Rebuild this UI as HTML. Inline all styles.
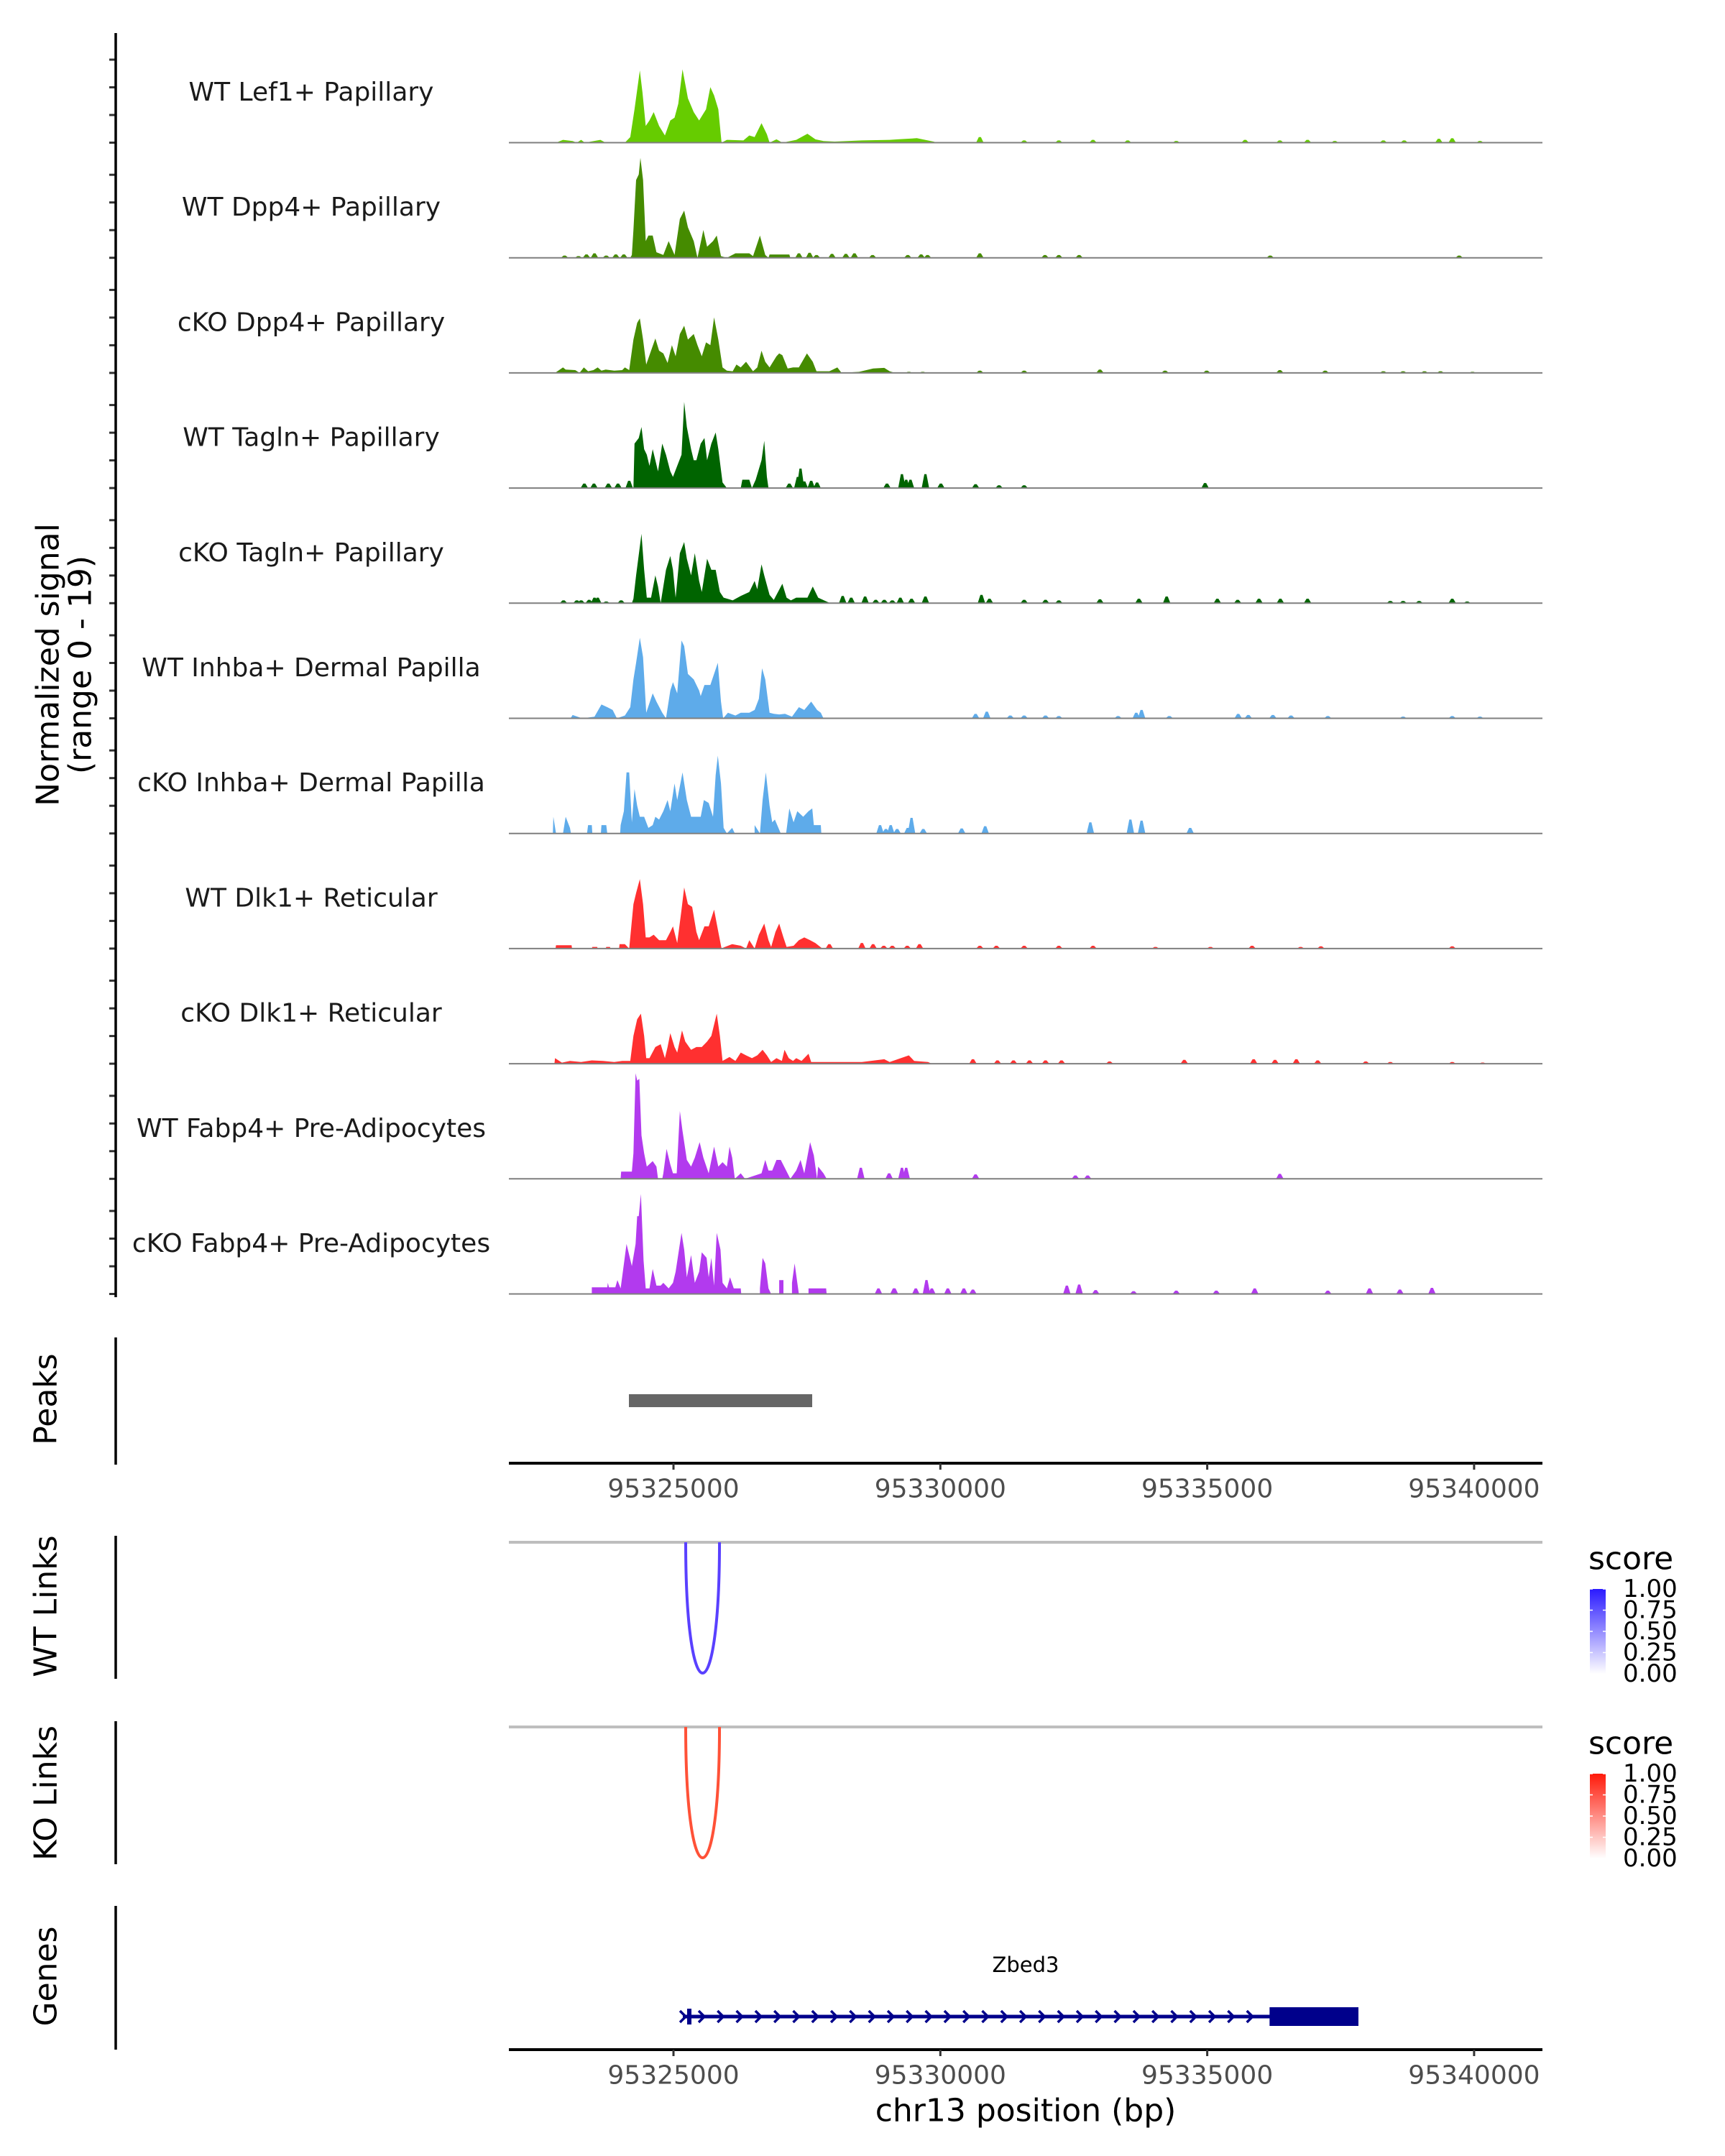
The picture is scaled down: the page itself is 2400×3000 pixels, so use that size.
<!DOCTYPE html>
<html><head><meta charset="utf-8"><style>
html,body{margin:0;padding:0;background:#fff;}
svg{display:block;font-family:"DejaVu Sans","Liberation Sans",sans-serif;}
</style></head><body>
<svg id="chart" width="2400" height="3000" viewBox="0 0 2400 3000" xmlns="http://www.w3.org/2000/svg">
<rect x="0" y="0" width="2400" height="3000" fill="#fff"/>
<g id="tracks"></g>
<g id="axes"></g>
</svg>
<script>
// ---------- data (positions in kb offset from 95,320,000 bp; values = normalized signal) ----------
const trackNames = ["WT Lef1+ Papillary","WT Dpp4+ Papillary","cKO Dpp4+ Papillary","WT Tagln+ Papillary","cKO Tagln+ Papillary","WT Inhba+ Dermal Papilla","cKO Inhba+ Dermal Papilla","WT Dlk1+ Reticular","cKO Dlk1+ Reticular","WT Fabp4+ Pre-Adipocytes","cKO Fabp4+ Pre-Adipocytes"];
const trackColors = ["#66cc00","#458b00","#458b00","#006400","#006400","#5eabea","#5eabea","#ff3030","#ff3030","#b23aee","#b23aee"];

const lef1WtPos = [2.80,2.93,3.11,3.19,3.27,3.34,3.63,3.73,4.09,4.19,4.27,4.37,4.42,4.48,4.55,4.63,4.73,4.84,4.94,5.02,5.09,5.17,5.27,5.38,5.48,5.61,5.69,5.76,5.84,5.90,6.00,6.31,6.42,6.52,6.65,6.75,6.80,6.93,7.04,7.30,7.51,7.66,7.81,8.02,8.53,9.05,9.20,9.56,9.87,9.95];
const lef1WtVal = [0,0.5,0.3,0,0.5,0,0.5,0,0,1,6,13,9,3,4,5.5,3,1.3,4,4.5,7,13.2,8,5.5,4,6,10,8.5,6,0,0.5,0.4,1.3,1,3.5,1.5,0,0.6,0,0.5,1.6,0.6,0.3,0.2,0.4,0.5,0.6,0.8,0.2,0];
const lef1WtBumpPos = [10.74,11.57,12.22,12.86,13.51,14.42,15.71,16.36,16.88,17.39,18.30,18.69,19.34,19.59,20.11];
const lef1WtBumpVal = [1,0.4,0.4,0.5,0.4,0.3,0.5,0.4,0.5,0.3,0.4,0.4,0.7,0.8,0.3];

const dpp4WtPos = [4.19,4.22,4.25,4.30,4.35,4.38,4.43,4.48,4.53,4.61,4.68,4.81,4.91,5.02,5.12,5.20,5.27,5.38,5.45,5.56,5.63,5.74,5.81,5.89,6.00,6.16,6.42,6.49,6.62,6.72,6.78,6.80,7.17,7.19];
const dpp4WtVal = [0,0.5,5,14,15,18,14,3,4,4,1,0.5,3,0.5,7,8.5,5.5,3,0,5,2,3,4,0.3,0,0.8,0.8,0.3,4,0.5,0,0.6,0.6,0];
const dpp4WtBumpPos = [2.96,3.22,3.37,3.52,3.74,3.92,4.07,7.35,7.55,7.68,7.97,8.23,8.39,8.73,9.39,9.64,9.76,10.74,11.96,12.22,12.60,16.18,19.72];
const dpp4WtBumpVal = [0.4,0.3,0.6,0.8,0.4,0.6,0.6,0.8,0.9,0.5,0.7,0.7,0.8,0.5,0.5,0.6,0.5,0.8,0.5,0.5,0.5,0.4,0.4];

const dpp4KoPos = [2.78,2.93,2.98,3.16,3.24,3.32,3.40,3.50,3.58,3.65,3.73,3.89,4.04,4.09,4.17,4.25,4.32,4.37,4.43,4.49,4.58,4.66,4.73,4.81,4.89,4.97,5.04,5.12,5.20,5.27,5.38,5.45,5.53,5.61,5.69,5.76,5.84,5.92,6.00,6.11,6.18,6.26,6.36,6.49,6.57,6.65,6.72,6.80,6.93,6.98,7.04,7.14,7.24,7.35,7.50,7.61,7.68,7.92,8.07,8.15,8.48,8.74,8.95,9.05,9.15];
const dpp4KoVal = [0,1,0.6,0.5,0,1,0.3,0.5,1,0.4,0.6,0.4,0.5,1,0.5,6,9,9.8,6,1.5,4,6.2,4,3.5,1.8,5,3,7,8.5,6,7,5,3,5.5,5,10,6,1,0.4,0.3,1.5,1,2,0.3,1,4,2,1,3,3.5,3.2,0.8,1,1,3.5,2,0.3,0.3,1,0,0.2,0.8,0.9,0.3,0];
const dpp4KoBumpPos = [9.41,9.67,10.74,11.57,12.99,14.21,14.99,16.36,17.21,18.30,18.67,19.07,19.37,19.97];
const dpp4KoBumpVal = [0.2,0.2,0.4,0.4,0.6,0.4,0.4,0.5,0.4,0.3,0.3,0.3,0.3,0.2];

const taglnWtPos = [4.25,4.27,4.35,4.40,4.45,4.50,4.55,4.61,4.66,4.71,4.79,4.86,4.94,4.99,5.07,5.15,5.20,5.25,5.33,5.38,5.43,5.51,5.58,5.63,5.71,5.79,5.84,5.92,6.00,6.26,6.29,6.42,6.47,6.54,6.65,6.70,6.75,6.78];
const taglnWtVal = [0,8,9,11,7,6,4,7,5,3,8,6,3,2,4,6,15.5,11,7,5,5,8,9,5,8,10,7,1,0,0,1.5,1.5,0,1.5,5,8.5,2,0];
const taglnWtBumpPos = [3.33,3.51,3.78,3.96,4.17,7.17,7.33,7.38,7.45,7.58,7.69,9.00,9.28,9.36,9.72,9.44,10.01,10.66,11.10,11.57,14.96];
const taglnWtBumpVal = [0.8,0.8,0.8,0.8,1.3,0.8,2,3.5,1.2,1.3,1,0.8,2.5,1.5,2.5,1.5,0.8,0.7,0.5,0.5,0.9];

const taglnKoPos = [4.22,4.25,4.30,4.40,4.45,4.50,4.58,4.66,4.71,4.76,4.86,4.94,4.99,5.04,5.12,5.20,5.25,5.33,5.40,5.48,5.53,5.63,5.71,5.79,5.87,5.94,6.11,6.26,6.42,6.52,6.57,6.65,6.70,6.80,6.88,7.04,7.12,7.20,7.30,7.40,7.51,7.61,7.71,7.89,7.94];
const taglnKoVal = [0,0.8,5,12.5,6,1,1,5,3,0,6,8.5,6,1,9,11,8,5,9,4,2,8,6,6,2,1,0.5,1.3,2,4,2.5,7,5,1.5,0.6,3.5,1,0.5,1,1,1,3,1,0.2,0];
const taglnKoBumpPos = [2.94,3.19,3.27,3.42,3.52,3.58,3.74,4.02,8.17,8.33,8.59,8.79,8.95,9.10,9.25,9.46,9.72,10.77,10.92,11.57,11.97,12.22,12.99,13.72,14.24,15.19,15.57,15.97,16.37,16.88,18.43,18.67,18.97,19.59,19.87];
const taglnKoBumpVal = [0.5,0.5,0.5,0.6,1,1,0.3,0.5,1.3,1,1.2,0.6,0.6,0.5,1,0.8,1.2,1.5,0.8,0.6,0.6,0.5,0.7,0.8,1.2,0.8,0.6,0.8,0.8,0.8,0.4,0.4,0.4,0.8,0.3];

const inhbaWtPos = [3.07,3.11,3.29,3.52,3.65,3.76,3.86,3.94,4.09,4.19,4.25,4.30,4.37,4.43,4.49,4.61,4.68,4.79,4.86,4.94,4.99,5.07,5.15,5.20,5.27,5.38,5.48,5.51,5.58,5.69,5.76,5.83,5.89,5.93,6.02,6.16,6.26,6.42,6.52,6.60,6.66,6.72,6.80,6.88,6.98,7.09,7.22,7.35,7.45,7.58,7.69,7.76,7.81];
const inhbaWtVal = [0,0.6,0,0.3,2.5,2,1.5,0,0.5,2,7,10,14.5,11,1,4.5,3,1,0,5,6.5,4.5,14,13,8,7,5,4,6,6,8,10,3,0,1,0.5,1,1,1.5,3.5,9,7,1,0.8,0.7,0.8,0.3,2,1.5,3,1.5,1,0];
const inhbaWtBumpPos = [10.66,10.87,11.31,11.57,11.97,12.22,13.33,13.67,13.77,14.29,15.58,15.77,16.23,16.57,17.26,18.67,19.59,20.11];
const inhbaWtBumpVal = [0.8,1.2,0.5,0.5,0.5,0.4,0.4,1,1.5,0.4,0.8,0.6,0.6,0.5,0.4,0.3,0.4,0.3];

const inhbaKoPos = [2.74,2.75,2.80,2.93,2.98,3.06,3.08,3.38,3.40,3.47,3.48,3.64,3.65,3.74,3.76,4.00,4.01,4.07,4.12,4.17,4.22,4.27,4.32,4.37,4.45,4.53,4.61,4.66,4.73,4.81,4.89,4.94,5.02,5.07,5.17,5.25,5.33,5.51,5.57,5.66,5.74,5.79,5.83,5.89,5.94,6.00,6.10,6.15,6.52,6.52,6.62,6.67,6.73,6.80,6.85,6.90,7.01,7.11,7.17,7.25,7.32,7.43,7.53,7.60,7.63,7.76,7.77];
const inhbaKoVal = [0,3,0,0,3,1,0,0,1.5,1.5,0,0,1.5,1.5,0,0,1.5,4,11,11,2,8,5,3,3,1,1.5,3,2.5,4,6,4,9,6,11,6,3,3,6,5.5,3,10.5,14,9,1,0,1,0,0,1.5,0,6,11,5,2,2.5,0,0,4.5,2,4,3,4,4.5,1.5,1.5,0];
const inhbaKoBumpPos = [8.87,9.07,9.39,9.46,8.98,9.19,9.68,10.40,10.84,12.81,13.56,13.77,14.68];
const inhbaKoBumpVal = [1.5,1.5,1,2.8,0.8,0.8,0.8,0.9,1.3,2,2.5,2.3,1];

const dlk1WtPos = [2.79,2.80,3.09,3.10,3.47,3.48,3.57,3.58,3.73,3.74,3.81,3.82,3.98,3.99,4.09,4.17,4.25,4.30,4.37,4.43,4.48,4.55,4.63,4.73,4.86,4.94,4.99,5.07,5.15,5.20,5.27,5.35,5.43,5.48,5.58,5.66,5.76,5.84,5.90,5.94,6.10,6.26,6.36,6.42,6.52,6.60,6.70,6.78,6.83,6.91,6.98,7.06,7.12,7.25,7.35,7.45,7.56,7.66,7.79];
const dlk1WtVal = [0,0.6,0.6,0,0,0.3,0.3,0,0,0.3,0.3,0,0,0.8,0.8,0,8,10,12.5,8,2,2,2.5,1.5,1.5,3,4,1,7,11,8,7.5,3,1.5,4,4,7,3,0,0.2,0.8,0.5,0,1.5,0,2.5,4.5,1.5,0.3,3,4.5,2,0.3,0.5,1.5,2,1.5,1,0];
const dlk1WtBumpPos = [7.92,8.53,8.74,8.94,9.10,9.38,9.61,10.74,11.05,11.57,12.22,12.86,14.03,15.06,15.84,16.75,17.13,19.59];
const dlk1WtBumpVal = [0.8,1,0.8,0.5,0.5,0.5,0.8,0.5,0.5,0.5,0.5,0.5,0.3,0.3,0.5,0.3,0.4,0.4];

const dlk1KoPos = [2.77,2.78,2.91,3.06,3.27,3.47,3.68,3.89,4.04,4.19,4.25,4.32,4.39,4.45,4.49,4.55,4.66,4.76,4.84,4.89,4.94,5.02,5.07,5.16,5.22,5.33,5.43,5.53,5.63,5.71,5.81,5.87,5.92,6.05,6.16,6.26,6.36,6.47,6.57,6.67,6.75,6.83,6.93,7.03,7.08,7.16,7.24,7.30,7.40,7.53,7.58,7.71,8.02,8.53,8.95,9.05,9.41,9.51,9.77,9.84];
const dlk1KoVal = [0,1,0.2,0.5,0.3,0.6,0.5,0.3,0.5,0.5,5,8,9,5,1,1,3,3.5,1,3,5.5,3,2,6,4,2.5,3,3,4,5,9,5,0.5,1.2,0.5,2,1.5,1,1.5,2.5,1.5,0.3,1,0.5,2.5,1,0.5,1,0.5,1.8,0.3,0.3,0.3,0.3,0.8,0.3,1.5,0.5,0.3,0];
const dlk1KoBumpPos = [10.61,11.07,11.37,11.67,11.97,12.27,13.17,14.57,15.87,16.27,16.67,17.07,17.97,18.43,19.59,20.16];
const dlk1KoBumpVal = [0.8,0.6,0.6,0.6,0.6,0.6,0.4,0.7,0.8,0.7,0.8,0.6,0.4,0.3,0.3,0.2];

const fabp4WtPos = [4.01,4.02,4.22,4.25,4.29,4.32,4.36,4.40,4.45,4.50,4.61,4.68,4.71,4.79,4.81,4.87,4.94,4.99,5.06,5.12,5.17,5.25,5.33,5.40,5.49,5.56,5.66,5.76,5.84,5.92,6.00,6.05,6.10,6.15,6.26,6.34,6.65,6.72,6.78,6.85,6.93,7.01,7.19,7.30,7.38,7.45,7.56,7.63,7.69,7.71,7.81,7.87];
const fabp4WtVal = [0,1.3,1.3,4.6,19,17.7,18,7.8,4.6,2.2,3.2,2.2,0,0,1,5.4,2.6,1,1,12.2,8.6,3.4,2.2,3.8,6.6,3.8,1,5.8,2.2,3,2.2,5.8,3.8,0,1,0,1,3.4,1.5,1.5,3.4,3.4,0,1.5,3.4,1,6.6,4.2,0,2.2,1,0];
const fabp4WtBumpPos = [8.51,9.04,9.28,9.36,10.66,12.53,12.76,16.36];
const fabp4WtBumpVal = [2,1,2,2,0.8,0.6,0.6,0.9];

const fabp4KoPos = [3.47,3.47,3.76,3.77,3.79,3.91,3.95,4.01,4.12,4.17,4.22,4.29,4.32,4.35,4.39,4.44,4.48,4.55,4.61,4.68,4.76,4.81,4.91,4.99,5.04,5.15,5.20,5.25,5.33,5.40,5.48,5.53,5.62,5.66,5.71,5.76,5.81,5.88,5.92,6.00,6.06,6.13,6.18,6.26,6.27,6.62,6.62,6.67,6.72,6.78,6.83,6.98,6.98,7.06,7.06,7.22,7.22,7.27,7.32,7.35,7.53,7.53,7.86,7.87];
const fabp4KoVal = [0,1.2,1.2,2,1.2,1.2,2.5,1,9,7,5,9,14,14,18,6,1,1,4.5,1.5,1.5,2,1,2,4,11,8,3,7,2,4,7.5,6.5,3,6.5,1.5,11,8,2,1,3,1,1,1,0,0,1,6.5,5.5,1,0,0,2.5,2.5,0,0,2,5.5,2,0,0,1,1,0];
const fabp4KoBumpPos = [8.84,9.13,9.74,9.14,9.54,9.84,10.14,10.44,10.61,12.37,12.60,12.91,13.62,14.42,15.17,15.89,17.26,18.04,18.61,19.21];
const fabp4KoBumpVal = [1,1,2.5,1,1,1,1,1,0.8,1.5,1.7,0.7,0.5,0.6,0.6,1,0.6,1,0.8,1.1];

const trackPos = [lef1WtPos,dpp4WtPos,dpp4KoPos,taglnWtPos,taglnKoPos,inhbaWtPos,inhbaKoPos,dlk1WtPos,dlk1KoPos,fabp4WtPos,fabp4KoPos];
const trackVal = [lef1WtVal,dpp4WtVal,dpp4KoVal,taglnWtVal,taglnKoVal,inhbaWtVal,inhbaKoVal,dlk1WtVal,dlk1KoVal,fabp4WtVal,fabp4KoVal];
const trackBumpPos = [lef1WtBumpPos,dpp4WtBumpPos,dpp4KoBumpPos,taglnWtBumpPos,taglnKoBumpPos,inhbaWtBumpPos,inhbaKoBumpPos,dlk1WtBumpPos,dlk1KoBumpPos,fabp4WtBumpPos,fabp4KoBumpPos];
const trackBumpVal = [lef1WtBumpVal,dpp4WtBumpVal,dpp4KoBumpVal,taglnWtBumpVal,taglnKoBumpVal,inhbaWtBumpVal,inhbaKoBumpVal,dlk1WtBumpVal,dlk1KoBumpVal,fabp4WtBumpVal,fabp4KoBumpVal];

const peakStarts = [95324165];
const peakEnds = [95327599];
const wtLinkStart = [95325229];
const wtLinkEnd = [95325862];
const wtLinkScore = [0.85];
const koLinkStart = [95325229];
const koLinkEnd = [95325862];
const koLinkScore = [0.85];
const geneName = ["Zbed3"];
const geneStart = [95325175];
const geneEnd = [95337833];
const geneCdsStart = [95336168];
const xTicks = [95325000,95330000,95335000,95340000];
const legendTicks = ["1.00","0.75","0.50","0.25","0.00"];

// ---------- scales ----------
const BASE_BP = 95320000;
function xs(bp){ return 708 + (bp - 95321916) * (371.3/5000); }
function xk(kb){ return xs(BASE_BP + kb*1000); }
const UNIT = 7.73;
function baseY(i){ return 198.5 + i*160.2; }

const NS="http://www.w3.org/2000/svg";
function mk(tag, attrs, parent){ const e=document.createElementNS(NS,tag); for(const k in attrs) e.setAttribute(k,attrs[k]); parent.appendChild(e); return e; }
const tg=document.getElementById('tracks');
const ax=document.getElementById('axes');

// ---------- coverage tracks ----------
for(let i=0;i<trackNames.length;i++){
  const b=baseY(i);
  const g=mk('g',{},tg);
  
  
  const P=trackPos[i], V=trackVal[i];
  let d='M'+xk(P[0]).toFixed(1)+','+b;
  for(let j=0;j<P.length;j++) d+=' L'+xk(P[j]).toFixed(1)+','+(b-V[j]*UNIT).toFixed(1);
  d+=' L'+xk(P[P.length-1]).toFixed(1)+','+b+' Z';
  const area=mk('path',{d:d,fill:trackColors[i]},g);
  
  
  const BP=trackBumpPos[i], BV=trackBumpVal[i];
  for(let j=0;j<BP.length;j++){
    const x0=xk(BP[j]-0.07), x1=xk(BP[j]-0.02), x2=xk(BP[j]+0.02), x3=xk(BP[j]+0.07), y=b-BV[j]*UNIT;
    const bump=mk('path',{d:`M${x0},${b} L${x1},${y} L${x2},${y} L${x3},${b} Z`,fill:trackColors[i]},g);
    
    
  }
  const bl=mk('line',{x1:708,x2:2146,y1:b,y2:b,stroke:'#7f7f7f','stroke-width':2},g);
  
  
  const lab=mk('text',{x:433,y:b-70,'font-size':36,'text-anchor':'middle','dominant-baseline':'central',fill:'#1a1a1a'},g);
  lab.textContent=trackNames[i];
  
  
  for(let k=0;k<4;k++){
    const t=mk('line',{x1:152,x2:161,y1:b-k*38.5,y2:b-k*38.5,stroke:'#333','stroke-width':3},ax);
    
    
  }
}

// ---------- left axis lines ----------
const axisSpans=[[46,1805,'signal-y-axis'],[1861,2038,'peaks-y-axis'],[2137,2336,'wt-links-y-axis'],[2395,2594,'ko-links-y-axis'],[2652,2852,'genes-y-axis']];
axisSpans.forEach(s=>{
  const l=mk('line',{x1:161,x2:161,y1:s[0],y2:s[1],stroke:'#000','stroke-width':3.5},ax);
  
  
});

// y title
const yt=mk('text',{transform:'translate(67,925) rotate(-90)','font-size':44,'text-anchor':'middle','dominant-baseline':'central',fill:'#000'},ax);
yt.textContent='Normalized signal';


const yt2=mk('text',{transform:'translate(112,925) rotate(-90)','font-size':44,'text-anchor':'middle','dominant-baseline':'central',fill:'#000'},ax);
yt2.textContent='(range 0 - 19)';



// panel titles
[['Peaks',1947,'peaks-title'],['WT Links',2235,'wt-links-title'],['KO Links',2495,'ko-links-title'],['Genes',2750,'genes-title']].forEach(p=>{
  const t=mk('text',{transform:`translate(64,${p[1]}) rotate(-90)`,'font-size':44,'text-anchor':'middle','dominant-baseline':'central',fill:'#000'},ax);
  t.textContent=p[0];
  
  
});

// peaks
for(let i=0;i<peakStarts.length;i++){
  const r=mk('rect',{x:xs(peakStarts[i]),y:1940,width:xs(peakEnds[i])-xs(peakStarts[i]),height:18,fill:'#666666'},ax);
  
  
}

// x axes
function xAxis(y, name){
  const g=mk('g',{},ax);
  
  
  mk('line',{x1:708,x2:2146,y1:y,y2:y,stroke:'#000','stroke-width':4},g);
  xTicks.forEach(t=>{
    const x=xs(t);
    mk('line',{x1:x,x2:x,y1:y,y2:y+9,stroke:'#333','stroke-width':3},g);
    const tx=mk('text',{x:x,y:y+36,'font-size':36,'text-anchor':'middle','dominant-baseline':'central',fill:'#4d4d4d'},g);
    tx.textContent=String(t);
    
    
  });
}
xAxis(2036,'peaks-x-axis');
xAxis(2852,'genes-x-axis');
const xt=mk('text',{x:1427,y:2937,'font-size':44,'text-anchor':'middle','dominant-baseline':'central',fill:'#000'},ax);
xt.textContent='chr13 position (bp)';



// links
function mix(c,s){ return 'rgb('+c.map(v=>Math.round(255+(v-255)*s)).join(',')+')'; }
function links(top, starts, ends, scores, col, name){
  const gl=mk('line',{x1:708,x2:2146,y1:top,y2:top,stroke:'#bebebe','stroke-width':4},ax);
  
  
  for(let i=0;i<starts.length;i++){
    const x1=xs(starts[i]), x2=xs(ends[i]), c=top+182/0.75;
    const p=mk('path',{d:`M${x1},${top} C${x1},${c} ${x2},${c} ${x2},${top}`,fill:'none',stroke:mix(col,scores[i]),'stroke-width':4},ax);
    
    
  }
}
links(2146, wtLinkStart, wtLinkEnd, wtLinkScore, [60,30,255], 'wt-link');
links(2403, koLinkStart, koLinkEnd, koLinkScore, [255,50,20], 'ko-link');

// legends
const defs=mk('defs',{},ax);
function legend(titleY, barTop, c1, id, name){
  const lg=mk('linearGradient',{id:id,x1:0,y1:0,x2:0,y2:1},defs);
  mk('stop',{offset:'0','stop-color':c1},lg);
  mk('stop',{offset:'1','stop-color':'#ffffff'},lg);
  const g=mk('g',{},ax);
  
  
  const t=mk('text',{x:2210,y:titleY,'font-size':44,'dominant-baseline':'central',fill:'#000'},g);
  t.textContent='score';
  mk('rect',{x:2212,y:barTop,width:22,height:118,fill:`url(#${id})`},g);
  legendTicks.forEach((lbl,k)=>{
    const y=barTop+k*29.5;
    mk('line',{x1:2212,x2:2216,y1:y,y2:y,stroke:'#fff','stroke-width':1.5},g);
    mk('line',{x1:2230,x2:2234,y1:y,y2:y,stroke:'#fff','stroke-width':1.5},g);
    const tx=mk('text',{x:2258,y:y,'font-size':34,'dominant-baseline':'central',fill:'#000'},g);
    tx.textContent=lbl;
  });
}
legend(2169,2211,'#2a1aff','gradWT','wt-score-legend');
legend(2426,2468,'#ff1a0a','gradKO','ko-score-legend');

// gene
for(let i=0;i<geneName.length;i++){
  const g=mk('g',{},ax);
  
  
  const xa=xs(geneStart[i]), xb=xs(geneEnd[i]), xc=xs(geneCdsStart[i]), y=2806;
  mk('line',{x1:xa,x2:xb,y1:y,y2:y,stroke:'#00008b','stroke-width':5},g);
  mk('rect',{x:xc,y:2793,width:xb-xc,height:26,fill:'#00008b'},g);
  mk('rect',{x:xa+6,y:2795,width:6,height:22,fill:'#00008b'},g);
  mk('path',{d:`M${xa-4},${y-8} L${xa+4},${y} L${xa-4},${y+8}`,fill:'none',stroke:'#00008b','stroke-width':3.5},g);
  for(let x=xa+26; x<xc-8; x+=26.3){
    mk('path',{d:`M${x-4},${y-8} L${x+4},${y} L${x-4},${y+8}`,fill:'none',stroke:'#00008b','stroke-width':3.5},g);
  }
  const t=mk('text',{x:(xa+xb)/2+7,y:2734,'font-size':29,'text-anchor':'middle','dominant-baseline':'central',fill:'#000'},g);
  t.textContent=geneName[i];
}
</script>
</body></html>
